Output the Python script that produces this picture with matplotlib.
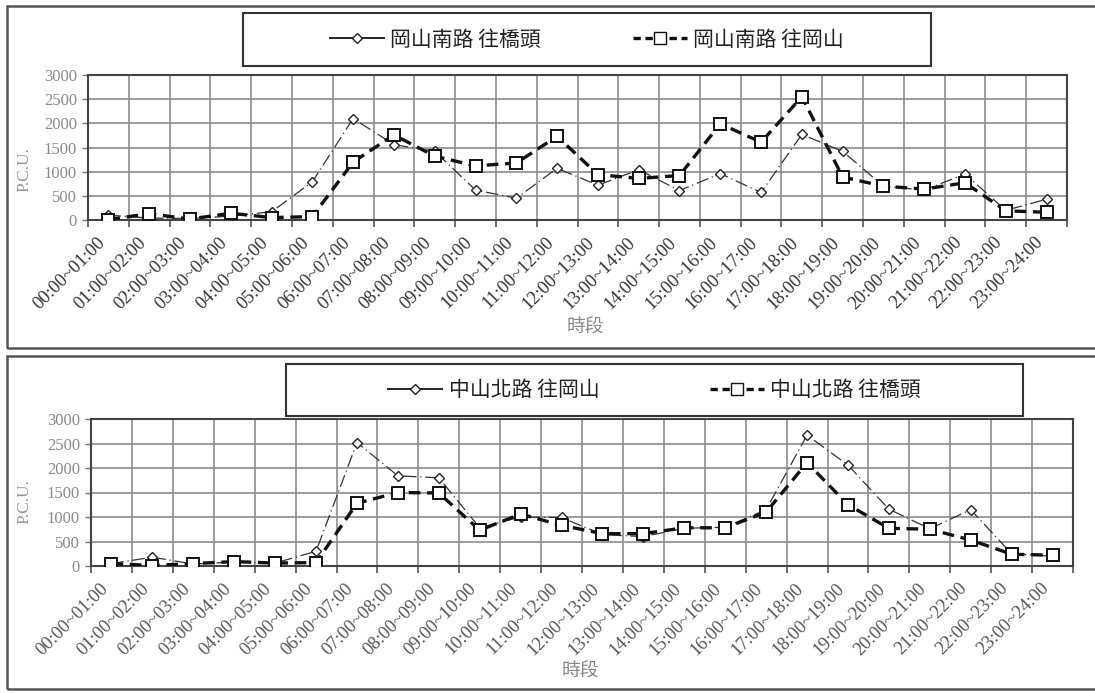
import matplotlib.pyplot as plt
from matplotlib.lines import Line2D
from matplotlib.patches import Rectangle
from matplotlib.font_manager import FontProperties

plt.rcParams['font.family'] = ['Liberation Serif', 'Noto Sans CJK TC']

# 時段
periods = ['00:00~01:00', '01:00~02:00', '02:00~03:00', '03:00~04:00',
           '04:00~05:00', '05:00~06:00', '06:00~07:00', '07:00~08:00',
           '08:00~09:00', '09:00~10:00', '10:00~11:00', '11:00~12:00',
           '12:00~13:00', '13:00~14:00', '14:00~15:00', '15:00~16:00',
           '16:00~17:00', '17:00~18:00', '18:00~19:00', '19:00~20:00',
           '20:00~21:00', '21:00~22:00', '22:00~23:00', '23:00~24:00']

# 岡山南路 (P.C.U.)
gsn_to_qiaotou = [100, 40, 30, 80, 170, 790, 2100, 1560, 1420, 620, 450, 1070,
                  720, 1040, 610, 960, 570, 1770, 1420, 700, 620, 950, 200, 430]
gsn_to_gangshan = [10, 130, 20, 140, 50, 70, 1200, 1760, 1320, 1120, 1180, 1730,
                   940, 860, 920, 1990, 1610, 2550, 890, 700, 640, 770, 190, 160]

# 中山北路 (P.C.U.)
zsn_to_gangshan = [50, 180, 40, 80, 60, 300, 2520, 1840, 1800, 780, 1000, 990,
                   640, 600, 770, 790, 1150, 2670, 2060, 1160, 760, 1150, 250, 200]
zsn_to_qiaotou = [50, 10, 50, 90, 60, 70, 1280, 1500, 1490, 730, 1060, 830,
                  660, 660, 780, 780, 1100, 2110, 1250, 770, 750, 530, 240, 220]

yticks = [0, 500, 1000, 1500, 2000, 2500, 3000]

W, H = 1095, 693
cjk = FontProperties(family='Noto Sans CJK TC', size=15)

fig = plt.figure(figsize=(W / 100, H / 100), dpi=100)
fig.patch.set_facecolor('white')


def px(x0, y0, x1, y1):
    # pixel box -> figure fraction [l, b, w, h]
    return [x0 / W, 1 - y1 / H, (x1 - x0) / W, (y1 - y0) / H]


def draw_panel(box, thin, thick, labels, legend_box, colsp, ylab_pos, xlab_xy, tickcol):
    ax = fig.add_axes(px(*box))
    x = range(len(periods))
    ax.plot(x, thin, color='#333333', lw=0.9, dashes=(10, 3, 1, 3),
            marker='D', ms=5.5, mfc='white', mec='#222222', mew=1.0, zorder=3)
    ax.plot(x, thick, color='#111111', lw=2.4, dashes=(3.5, 2),
            marker='s', ms=9, mfc='white', mec='#111111', mew=1.4, zorder=4)
    ax.set_xlim(-0.5, len(periods) - 0.5)
    ax.set_ylim(0, 3000)
    ax.set_yticks(yticks)
    ax.set_yticklabels([str(v) for v in yticks], fontsize=12, color='#8a8a8a')
    ax.set_xticks(list(x))
    ax.set_xticklabels(periods, rotation=45, ha='right', fontsize=13.2, color=tickcol)
    ax.set_xticks([i - 0.5 for i in range(len(periods) + 1)], minor=True)
    ax.tick_params(axis='x', which='major', length=0, pad=10)
    ax.tick_params(axis='x', which='minor', length=5, width=1.2, color='#555555')
    ax.tick_params(axis='y', length=4, width=1, color='#777777', pad=4)
    ax.grid(True, axis='x', which='minor', color='#8c8c8c', lw=1.2)
    ax.grid(True, axis='y', which='major', color='#8c8c8c', lw=1.2)
    for s in ax.spines.values():
        s.set_color('#444444')
        s.set_linewidth(1.5)
    ax.set_ylabel('P.C.U.', fontsize=12.5, color='#999999')
    ax.yaxis.set_label_coords(*ylab_pos)

    handles = [Line2D([], [], color='#222222', lw=1.4, marker='D', ms=5,
                      mfc='white', mec='#222222'),
               Line2D([], [], color='#111111', lw=2.4, dashes=(2.2, 1.4),
                      marker='s', ms=9, mfc='white', mec='#111111')]
    lx0, ly0, lx1, ly1 = legend_box
    fig.add_artist(Rectangle((lx0 / W, 1 - ly1 / H), (lx1 - lx0) / W, (ly1 - ly0) / H,
                             transform=fig.transFigure, fill=False,
                             ec='#333333', lw=1.5))
    ax.legend(handles, labels, ncol=2, frameon=False, loc='center',
              bbox_to_anchor=((lx0 + lx1) / 2 / W, 1 - (ly0 + ly1) / 2 / H),
              bbox_transform=fig.transFigure, prop=cjk, handlelength=2.6,
              handletextpad=0.3, columnspacing=colsp, labelcolor='#222222')
    fig.text(xlab_xy[0] / W, 1 - xlab_xy[1] / H, '時段', fontsize=13.5,
             color='#888888', family='Noto Sans CJK TC', ha='center', va='center')
    return ax


# outer frames of the two panels
fig.add_artist(Rectangle((7 / W, 1 - 348 / H), 1.0, (348 - 6) / H,
                         transform=fig.transFigure, fill=False, ec='#555555', lw=1.8))
fig.add_artist(Rectangle((7 / W, 1 - 689 / H), 1.0, (689 - 356) / H,
                         transform=fig.transFigure, fill=False, ec='#555555', lw=1.8))

draw_panel((88, 75, 1067, 220), gsn_to_qiaotou, gsn_to_gangshan,
           ['岡山南路 往橋頭', '岡山南路 往岡山'], (243, 13, 931, 66), 4.4,
           (-0.057, 0.345), (585, 327), '#333333')
draw_panel((91, 419, 1073, 566), zsn_to_gangshan, zsn_to_qiaotou,
           ['中山北路 往岡山', '中山北路 往橋頭'], (286, 364, 1023, 416), 5.3,
           (-0.06, 0.435), (580, 671), '#555555')

fig.savefig('out.png', dpi=100, facecolor='white')
